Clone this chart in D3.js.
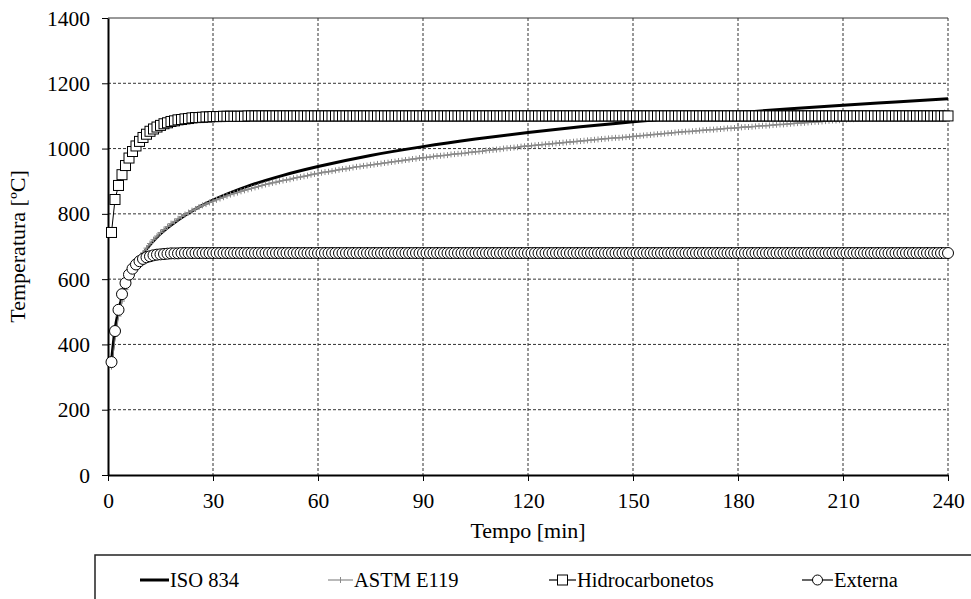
<!DOCTYPE html>
<html>
<head>
<meta charset="utf-8">
<script src="https://cdn.jsdelivr.net/npm/d3@7"></script>
<style>
  body { margin: 0; background: #fff; }
</style>
</head>
<body>
<div id="chart"></div>
<script>
// DATA
const seriesNames = ['ISO 834', 'ASTM E119', 'Hidrocarbonetos', 'Externa'];
const xTicks = [0, 30, 60, 90, 120, 150, 180, 210, 240];
const yTicks = [0, 200, 400, 600, 800, 1000, 1200, 1400];

// ISO 834 read at selected minutes (smooth line, no markers)
const isoTime = [1, 2, 3, 4, 5, 6, 7, 8, 9, 10, 12, 15, 20, 25, 30, 40, 50, 60, 75, 90, 105, 120, 135, 150, 165, 180, 195, 210, 225, 240];
const isoTemp = [349, 445, 502, 544, 576, 603, 626, 645, 663, 678, 705, 739, 781, 815, 842, 885, 918, 945, 979, 1006, 1029, 1049, 1067, 1082, 1097, 1110, 1122, 1133, 1143, 1153];

// the marked series have one point per minute (1..240)
const minutes = d3.range(1, 241);

const astmTemp = [
  332, 426, 487, 533, 568, 598, 623, 645, 664, 680,
  695, 709, 721, 732, 743, 752, 761, 770, 777, 785,
  792, 798, 804, 810, 815, 821, 826, 830, 835, 839,
  843, 847, 851, 855, 859, 862, 865, 869, 872, 875,
  878, 881, 884, 887, 890, 892, 895, 897, 900, 902,
  904, 906, 909, 911, 913, 915, 917, 920, 922, 924,
  926, 928, 929, 931, 933, 935, 937, 938, 940, 942,
  944, 945, 947, 948, 950, 951, 953, 954, 956, 957,
  959, 960, 962, 963, 965, 966, 968, 969, 971, 972,
  973, 974, 976, 977, 978, 979, 980, 982, 983, 984,
  985, 986, 988, 989, 990, 991, 992, 994, 995, 996,
  997, 998, 1000, 1001, 1002, 1003, 1004, 1006, 1007, 1008,
  1009, 1010, 1011, 1012, 1013, 1014, 1015, 1016, 1017, 1018,
  1019, 1020, 1021, 1022, 1023, 1024, 1025, 1026, 1027, 1028,
  1029, 1030, 1031, 1032, 1033, 1033, 1034, 1035, 1036, 1037,
  1038, 1039, 1040, 1041, 1042, 1043, 1044, 1045, 1046, 1047,
  1048, 1049, 1050, 1051, 1052, 1052, 1053, 1054, 1055, 1056,
  1057, 1058, 1058, 1059, 1060, 1061, 1062, 1062, 1063, 1064,
  1065, 1066, 1066, 1067, 1068, 1069, 1070, 1070, 1071, 1072,
  1073, 1074, 1074, 1075, 1076, 1077, 1078, 1078, 1079, 1080,
  1081, 1082, 1082, 1083, 1084, 1085, 1086, 1086, 1087, 1088,
  1089, 1090, 1090, 1091, 1092, 1093, 1094, 1094, 1095, 1096,
  1097, 1097, 1098, 1099, 1099, 1100, 1101, 1101, 1102, 1103,
  1104, 1105, 1105, 1106, 1107, 1108, 1109, 1109, 1110, 1111
];

const hydroTemp = [
  743, 844, 887, 920, 948, 971, 991, 1008, 1022, 1034,
  1044, 1053, 1060, 1066, 1071, 1076, 1079, 1083, 1085, 1088,
  1089, 1091, 1092, 1094, 1095, 1095, 1096, 1097, 1097, 1098,
  1098, 1098, 1099, 1099, 1099, 1099, 1099, 1099, 1099, 1100,
  1100, 1100, 1100, 1100, 1100, 1100, 1100, 1100, 1100, 1100, 1100, 1100, 1100, 1100, 1100, 1100, 1100, 1100, 1100, 1100,
  1100, 1100, 1100, 1100, 1100, 1100, 1100, 1100, 1100, 1100, 1100, 1100, 1100, 1100, 1100, 1100, 1100, 1100, 1100, 1100,
  1100, 1100, 1100, 1100, 1100, 1100, 1100, 1100, 1100, 1100, 1100, 1100, 1100, 1100, 1100, 1100, 1100, 1100, 1100, 1100,
  1100, 1100, 1100, 1100, 1100, 1100, 1100, 1100, 1100, 1100, 1100, 1100, 1100, 1100, 1100, 1100, 1100, 1100, 1100, 1100,
  1100, 1100, 1100, 1100, 1100, 1100, 1100, 1100, 1100, 1100, 1100, 1100, 1100, 1100, 1100, 1100, 1100, 1100, 1100, 1100,
  1100, 1100, 1100, 1100, 1100, 1100, 1100, 1100, 1100, 1100, 1100, 1100, 1100, 1100, 1100, 1100, 1100, 1100, 1100, 1100,
  1100, 1100, 1100, 1100, 1100, 1100, 1100, 1100, 1100, 1100, 1100, 1100, 1100, 1100, 1100, 1100, 1100, 1100, 1100, 1100,
  1100, 1100, 1100, 1100, 1100, 1100, 1100, 1100, 1100, 1100, 1100, 1100, 1100, 1100, 1100, 1100, 1100, 1100, 1100, 1100,
  1100, 1100, 1100, 1100, 1100, 1100, 1100, 1100, 1100, 1100, 1100, 1100, 1100, 1100, 1100, 1100, 1100, 1100, 1100, 1100,
  1100, 1100, 1100, 1100, 1100, 1100, 1100, 1100, 1100, 1100, 1100, 1100, 1100, 1100, 1100, 1100, 1100, 1100, 1100, 1100
];

const externaTemp = [
  346, 441, 506, 554, 588, 614, 632, 645, 655, 662,
  667, 670, 673, 675, 676, 677, 678, 679, 679, 679,
  680, 680, 680, 680, 680, 680, 680, 680, 680, 680, 680, 680, 680, 680, 680, 680, 680, 680, 680, 680,
  680, 680, 680, 680, 680, 680, 680, 680, 680, 680, 680, 680, 680, 680, 680, 680, 680, 680, 680, 680,
  680, 680, 680, 680, 680, 680, 680, 680, 680, 680, 680, 680, 680, 680, 680, 680, 680, 680, 680, 680,
  680, 680, 680, 680, 680, 680, 680, 680, 680, 680, 680, 680, 680, 680, 680, 680, 680, 680, 680, 680,
  680, 680, 680, 680, 680, 680, 680, 680, 680, 680, 680, 680, 680, 680, 680, 680, 680, 680, 680, 680,
  680, 680, 680, 680, 680, 680, 680, 680, 680, 680, 680, 680, 680, 680, 680, 680, 680, 680, 680, 680,
  680, 680, 680, 680, 680, 680, 680, 680, 680, 680, 680, 680, 680, 680, 680, 680, 680, 680, 680, 680,
  680, 680, 680, 680, 680, 680, 680, 680, 680, 680, 680, 680, 680, 680, 680, 680, 680, 680, 680, 680,
  680, 680, 680, 680, 680, 680, 680, 680, 680, 680, 680, 680, 680, 680, 680, 680, 680, 680, 680, 680,
  680, 680, 680, 680, 680, 680, 680, 680, 680, 680, 680, 680, 680, 680, 680, 680, 680, 680, 680, 680,
  680, 680, 680, 680, 680, 680, 680, 680, 680, 680, 680, 680, 680, 680, 680, 680, 680, 680, 680, 680
];

// SETTINGS
const width = 971, height = 599;
const margin = { top: 18, right: 23, bottom: 124, left: 108 };
const graphWidth = width - margin.left - margin.right;
const graphHeight = height - margin.top - margin.bottom;
const gridColor = '#333';
const astmColor = '#8a8a8a';
const fontFamily = '"Liberation Serif", "Times New Roman", Times, "DejaVu Serif", serif';

const svg = d3.select('#chart').append('svg')
    .attr('width', width)
    .attr('height', height)
    .style('display', 'block');

const graph = svg.append('g')
    .attr('transform', `translate(${margin.left}, ${margin.top})`);

// SCALES
const x = d3.scaleLinear().domain([0, 240]).range([0, graphWidth]);
const y = d3.scaleLinear().domain([0, 1400]).range([graphHeight, 0]);

// GRID
graph.append('g').selectAll('line')
    .data(yTicks.filter(d => d > 0))
    .enter().append('line')
    .attr('x1', 0).attr('x2', graphWidth)
    .attr('y1', d => y(d)).attr('y2', d => y(d))
    .attr('stroke', gridColor).attr('stroke-width', 1)
    .attr('stroke-dasharray', d => d === 1400 ? null : '3,2');

graph.append('g').selectAll('line')
    .data(xTicks.filter(d => d > 0))
    .enter().append('line')
    .attr('x1', d => x(d)).attr('x2', d => x(d))
    .attr('y1', 0).attr('y2', graphHeight)
    .attr('stroke', gridColor).attr('stroke-width', 1)
    .attr('stroke-dasharray', '3,2');

// AXES
const xAxis = d3.axisBottom(x).tickValues(xTicks).tickFormat(d3.format('d'))
    .tickSizeInner(6).tickSizeOuter(0).tickPadding(12);
const yAxis = d3.axisLeft(y).tickValues(yTicks).tickFormat(d3.format('d'))
    .tickSizeInner(6).tickSizeOuter(0).tickPadding(12);

const xAxisGroup = graph.append('g')
    .attr('transform', `translate(0, ${graphHeight})`)
    .call(xAxis);
const yAxisGroup = graph.append('g').call(yAxis);

[xAxisGroup, yAxisGroup].forEach(g => {
    g.attr('font-family', fontFamily).attr('font-size', 21.5);
    g.select('.domain').attr('stroke', '#000').attr('stroke-width', 2);
    g.selectAll('.tick line').attr('stroke', '#000').attr('stroke-width', 1);
    g.selectAll('.tick text').attr('fill', '#000');
});
yAxisGroup.selectAll('.tick text').attr('dy', '0.33em');

// AXIS TITLES
svg.append('text')
    .attr('x', margin.left + graphWidth / 2)
    .attr('y', 538)
    .attr('text-anchor', 'middle')
    .attr('font-family', fontFamily)
    .attr('font-size', 22)
    .text('Tempo [min]');

svg.append('text')
    .attr('transform', `translate(25, ${margin.top + graphHeight / 2}) rotate(-90)`)
    .attr('text-anchor', 'middle')
    .attr('font-family', fontFamily)
    .attr('font-size', 22)
    .text('Temperatura [ºC]');

// LINES
const line = d3.line()
    .x(d => x(d[0]))
    .y(d => y(d[1]));

const isoData = isoTime.map((t, i) => [t, isoTemp[i]]);
const astmData = minutes.map((t, i) => [t, astmTemp[i]]);
const hydroData = minutes.map((t, i) => [t, hydroTemp[i]]);
const extData = minutes.map((t, i) => [t, externaTemp[i]]);

// ISO 834
graph.append('path')
    .datum(isoData)
    .attr('fill', 'none')
    .attr('stroke', '#000')
    .attr('stroke-width', 3)
    .attr('d', line.curve(d3.curveMonotoneX));

line.curve(d3.curveLinear);

// ASTM E119
graph.append('path')
    .datum(astmData)
    .attr('fill', 'none')
    .attr('stroke', astmColor)
    .attr('stroke-width', 1.5)
    .attr('d', line);

graph.append('g').selectAll('path')
    .data(astmData)
    .enter().append('path')
    .attr('d', d => `M${x(d[0]) - 3},${y(d[1])}h6M${x(d[0])},${y(d[1]) - 3}v6`)
    .attr('stroke', astmColor)
    .attr('stroke-width', 1);

// HIDROCARBONETOS
graph.append('path')
    .datum(hydroData)
    .attr('fill', 'none')
    .attr('stroke', '#000')
    .attr('stroke-width', 1)
    .attr('d', line);

graph.append('g').selectAll('rect')
    .data(hydroData)
    .enter().append('rect')
    .attr('x', d => x(d[0]) - 5)
    .attr('y', d => y(d[1]) - 5)
    .attr('width', 10).attr('height', 10)
    .attr('fill', '#fff')
    .attr('stroke', '#000')
    .attr('stroke-width', 1);

// EXTERNA
graph.append('path')
    .datum(extData)
    .attr('fill', 'none')
    .attr('stroke', '#000')
    .attr('stroke-width', 1)
    .attr('d', line);

graph.append('g').selectAll('circle')
    .data(extData)
    .enter().append('circle')
    .attr('cx', d => x(d[0]))
    .attr('cy', d => y(d[1]))
    .attr('r', 5.5)
    .attr('fill', '#fff')
    .attr('stroke', '#000')
    .attr('stroke-width', 1);

// LEGEND
const legend = svg.append('g');
legend.append('rect')
    .attr('x', 95).attr('y', 555)
    .attr('width', 900).attr('height', 80)
    .attr('fill', '#fff')
    .attr('stroke', '#222')
    .attr('stroke-width', 1.5);

const legendY = 580;
const legendItems = [
    { name: seriesNames[0], x0: 140, x1: 169 },
    { name: seriesNames[1], x0: 328, x1: 353 },
    { name: seriesNames[2], x0: 549, x1: 576 },
    { name: seriesNames[3], x0: 802, x1: 833 }
];

legendItems.forEach((item, i) => {
    const g = legend.append('g');
    const cx = (item.x0 + item.x1) / 2;
    g.append('line')
        .attr('x1', item.x0).attr('x2', item.x1)
        .attr('y1', legendY).attr('y2', legendY)
        .attr('stroke', i === 1 ? astmColor : '#000')
        .attr('stroke-width', i === 0 ? 3 : 1.2);
    if (i === 1) {
        g.append('path')
            .attr('d', `M${cx},${legendY - 3}v6`)
            .attr('stroke', astmColor);
    } else if (i === 2) {
        g.append('rect')
            .attr('x', cx - 5).attr('y', legendY - 5)
            .attr('width', 10).attr('height', 10)
            .attr('fill', '#fff').attr('stroke', '#000');
    } else if (i === 3) {
        g.append('circle')
            .attr('cx', cx).attr('cy', legendY).attr('r', 5)
            .attr('fill', '#fff').attr('stroke', '#000');
    }
    g.append('text')
        .attr('x', item.x1 + 1)
        .attr('y', legendY + 7)
        .attr('font-family', fontFamily)
        .attr('font-size', 20.5)
        .text(item.name);
});
</script>
</body>
</html>
